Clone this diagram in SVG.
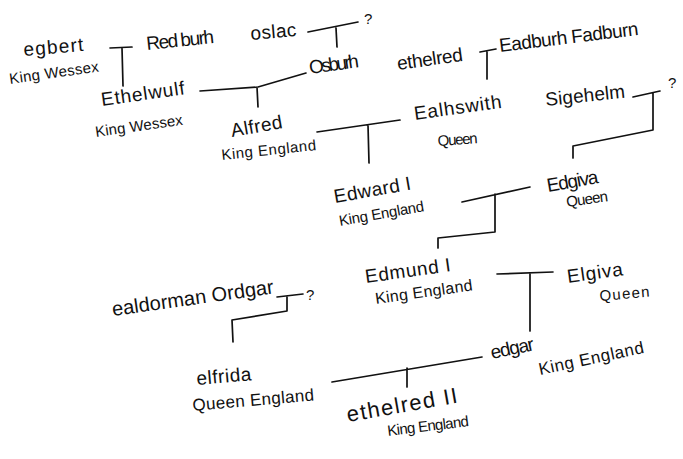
<svg xmlns="http://www.w3.org/2000/svg" width="683" height="459" viewBox="0 0 683 459">
<style>
text{font-family:"Liberation Sans","DejaVu Sans",sans-serif;fill:#111;}
.n{font-size:19px;}
.s{font-size:15px;}
.q{font-size:15px;}
#connectors path{fill:none;stroke:#111;stroke-width:1.7;stroke-linecap:round;stroke-linejoin:round;}
</style>
<rect width="683" height="459" fill="#fff"/>
<g id="connectors">
<path d="M110,48 L132,47 M122,48 L123,86"/>
<path d="M308,32 L358,22 M336,28 L337,47"/>
<path d="M200,91 L258,87 L306,73 M257,87 L258,107"/>
<path d="M480,52 L496,49 M487,52 L487,79"/>
<path d="M317,132 L400,120 M368,125 L369,163"/>
<path d="M633,97 L660,91 M653,93 L653,130 L573,146 L573,158"/>
<path d="M462,202 L530,187 M495,194 L495,232 L438,238 L438,248"/>
<path d="M497,274 L553,272 M530,274 L530,331"/>
<path d="M277,297 L303,294 M287,296 L287,311 L232,320 L233,342"/>
<path d="M332,382 L482,357 M407,368 L407,387"/>
</g>
<g id="egbert"><text class="n" x="24" y="56" transform="rotate(-5 24 56)" textLength="60">egbert</text><text class="s" x="10" y="84" transform="rotate(-8 10 84)" textLength="90">King Wessex</text></g>
<g id="redburh"><text class="n" x="147" y="50" transform="rotate(-6 147 50)" textLength="68">Red burh</text></g>
<g id="oslac"><text class="n" x="251" y="40" transform="rotate(-5 251 40)" textLength="46">oslac</text><text class="q" x="364" y="24">?</text></g>
<g id="osburh"><text class="n" x="310" y="74" transform="rotate(-8 310 74)" textLength="50">Osburh</text></g>
<g id="ethelwulf"><text class="n" x="102" y="106" transform="rotate(-8 102 106)" textLength="84">Ethelwulf</text><text class="s" x="96" y="137" transform="rotate(-8 96 137)" textLength="88">King Wessex</text></g>
<g id="alfred"><text class="n" x="232" y="137" transform="rotate(-10 232 137)" textLength="52">Alfred</text><text class="s" x="222" y="160" transform="rotate(-6 222 160)" textLength="95">King England</text></g>
<g id="ethelred"><text class="n" x="398" y="70" transform="rotate(-8 398 70)" textLength="66">ethelred</text></g>
<g id="eadburh"><text class="n" x="500" y="52" transform="rotate(-7 500 52)" textLength="140">Eadburh Fadburn</text></g>
<g id="ealhswith"><text class="n" x="415" y="120" transform="rotate(-8 415 120)" textLength="88">Ealhswith</text><text class="q" x="438" y="146" transform="rotate(-4 438 146)" textLength="40">Queen</text></g>
<g id="sigehelm"><text class="n" x="546" y="106" transform="rotate(-6 546 106)" textLength="80">Sigehelm</text><text class="q" x="668" y="88">?</text></g>
<g id="edward"><text class="n" x="335" y="203" transform="rotate(-10 335 203)" textLength="78">Edward I</text><text class="s" x="340" y="226" transform="rotate(-10 340 226)" textLength="86">King England</text></g>
<g id="edgiva"><text class="n" x="548" y="192" transform="rotate(-10 548 192)" textLength="52">Edgiva</text><text class="q" x="567" y="207" transform="rotate(-8 567 207)" textLength="42">Queen</text></g>
<g id="edmund"><text class="n" x="366" y="283" transform="rotate(-8 366 283)" textLength="86">Edmund I</text><text class="s" x="376" y="304" transform="rotate(-8 376 304)" textLength="98" style="font-size:16px">King England</text></g>
<g id="elgiva"><text class="n" x="568" y="283" transform="rotate(-8 568 283)" textLength="56">Elgiva</text><text class="q" x="600" y="301" transform="rotate(-5 600 301)" textLength="50">Queen</text></g>
<g id="ordgar"><text class="n" x="113" y="316" transform="rotate(-8 113 316)" textLength="163" style="font-size:20px">ealdorman Ordgar</text><text class="q" x="306" y="300">?</text></g>
<g id="elfrida"><text class="n" x="197" y="385" transform="rotate(-5 197 385)" textLength="55">elfrida</text><text class="s" x="193" y="411" transform="rotate(-5 193 411)" textLength="122" style="font-size:17px">Queen England</text></g>
<g id="edgar"><text class="n" x="492" y="359" transform="rotate(-12 492 359)" textLength="44">edgar</text><text class="s" x="540" y="375" transform="rotate(-12 540 375)" textLength="107" style="font-size:17px">King England</text></g>
<g id="ethelred2"><text class="n" x="348" y="422" transform="rotate(-10 348 422)" textLength="112" style="font-size:22px">ethelred II</text><text class="s" x="388" y="436" transform="rotate(-7 388 436)" textLength="82">King England</text></g>
</svg>
